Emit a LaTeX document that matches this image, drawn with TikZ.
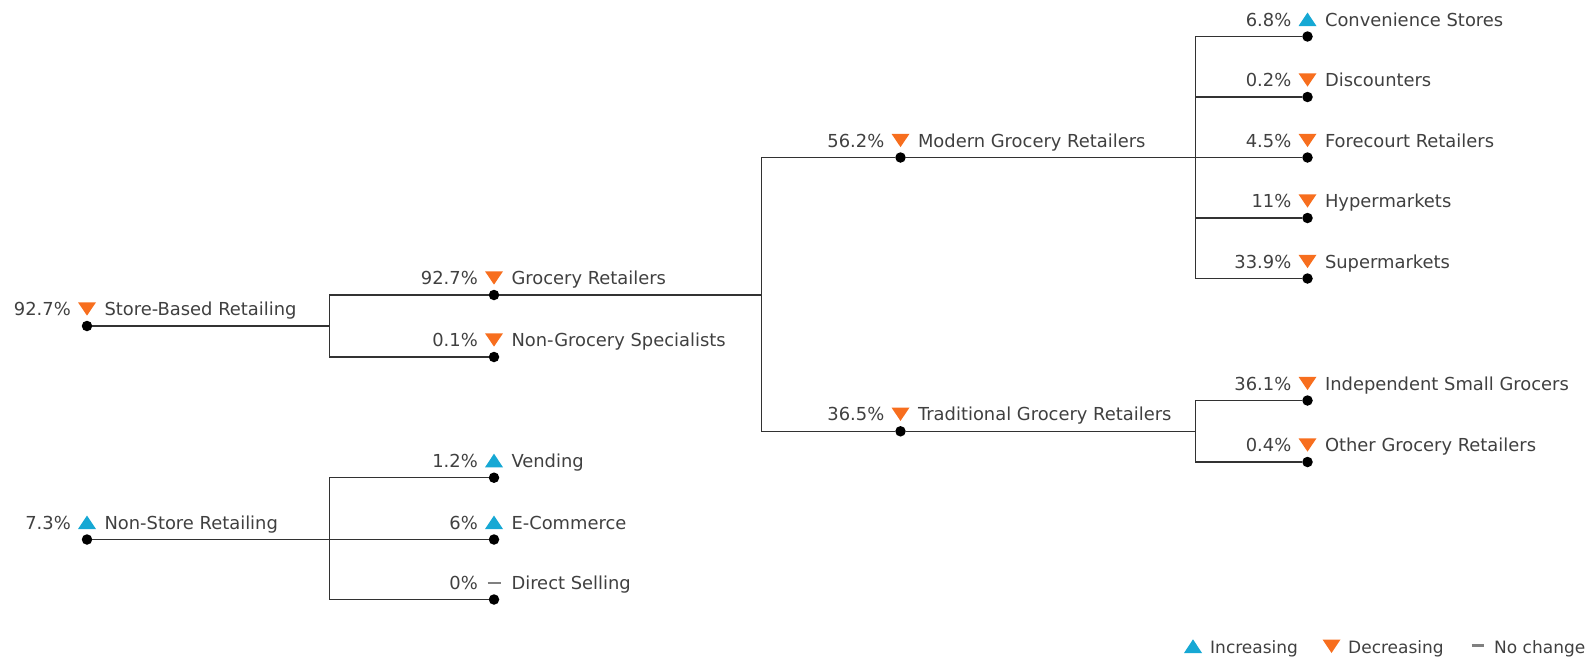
\documentclass[tikz,border=0pt]{standalone}
\usepackage{fontspec}
\setmainfont{DejaVu Sans}
\definecolor{decr}{RGB}{247,110,30}
\definecolor{incr}{RGB}{22,168,212}
\definecolor{txt}{RGB}{64,64,64}
\definecolor{linec}{RGB}{50,50,50}
\definecolor{nochg}{RGB}{128,128,128}
\tikzset{
  dot/.style={circle,fill=black,inner sep=0pt,minimum size=10.5pt},
  conn/.style={draw=linec,line width=1.15pt},
  lbl/.style={text=txt,inner sep=0pt,anchor=base west,font=\fontsize{17.9}{20}\selectfont},
  pct/.style={text=txt,inner sep=0pt,anchor=base east,font=\fontsize{17.9}{20}\selectfont},
  leg/.style={text=txt,inner sep=0pt,anchor=base west,font=\fontsize{17}{20}\selectfont},
}
\newcommand\mytri[2]{%
  \ifx#2d\fill[decr] ([shift={(-9pt,23.7pt)}]#1.center) -- ([shift={(9pt,23.7pt)}]#1.center) -- ([shift={(0pt,10.4pt)}]#1.center) -- cycle;\fi
  \ifx#2u\fill[incr] ([shift={(-9pt,10.4pt)}]#1.center) -- ([shift={(9pt,10.4pt)}]#1.center) -- ([shift={(0pt,24pt)}]#1.center) -- cycle;\fi
  \ifx#2n\draw[nochg,line width=2.4pt] ([shift={(-6.5pt,16.7pt)}]#1.center) -- ([shift={(6.5pt,16.7pt)}]#1.center);\fi
}
\newcommand\leaf[6]{%
  \node[dot] (#1) at (#2,#3) {};
  \node[pct] (#1-p) at ([shift={(-16pt,10.4pt)}]#1.center) {#4};
  \node[lbl] (#1-l) at ([shift={(17.3pt,10.4pt)}]#1.center) {#6};
  \mytri{#1}{#5}
}
\begin{document}
\begin{tikzpicture}[x=1pt,y=-1pt]
\useasboundingbox (0,0) rectangle (1590,657);
% nodes
\leaf{sb}{87}{326}{92.7\%}{d}{Store-Based Retailing}
\leaf{gr}{494}{295}{92.7\%}{d}{Grocery Retailers}
\leaf{ng}{494}{357}{0.1\%}{d}{Non-Grocery Specialists}
\leaf{mg}{900.5}{157.5}{56.2\%}{d}{Modern Grocery Retailers}
\leaf{tg}{900.5}{431.3}{36.5\%}{d}{Traditional Grocery Retailers}
\leaf{cs}{1307.5}{36.5}{6.8\%}{u}{Convenience Stores}
\leaf{di}{1307.5}{97}{0.2\%}{d}{Discounters}
\leaf{fr}{1307.5}{157.5}{4.5\%}{d}{Forecourt Retailers}
\leaf{hy}{1307.5}{218}{11\%}{d}{Hypermarkets}
\leaf{su}{1307.5}{278.5}{33.9\%}{d}{Supermarkets}
\leaf{is}{1307.5}{400.5}{36.1\%}{d}{Independent Small Grocers}
\leaf{og}{1307.5}{462}{0.4\%}{d}{Other Grocery Retailers}
\leaf{ns}{87}{539.5}{7.3\%}{u}{Non-Store Retailing}
\leaf{ve}{494}{477.7}{1.2\%}{u}{Vending}
\leaf{ec}{494}{539.5}{6\%}{u}{E-Commerce}
\leaf{ds}{494}{599.5}{0\%}{n}{Direct Selling}
% branch points
\coordinate (b1) at (329.5,326);
\coordinate (b2) at (761.5,295);
\coordinate (b3) at (1195.5,157.5);
\coordinate (b4) at (1195.5,431.3);
\coordinate (b5) at (329.5,539.5);
% connectors
\draw[conn] (sb) -- (b1);
\draw[conn] (gr) -- (gr -| b1) -- (ng -| b1) -- (ng);
\draw[conn] (gr) -- (b2);
\draw[conn] (mg) -- (mg -| b2) -- (tg -| b2) -- (tg);
\draw[conn] (mg) -- (b3);
\draw[conn] (cs) -- (cs -| b3) -- (su -| b3) -- (su);
\draw[conn] (di) -- (di -| b3);
\draw[conn] (fr) -- (b3);
\draw[conn] (hy) -- (hy -| b3);
\draw[conn] (tg) -- (b4);
\draw[conn] (is) -- (is -| b4) -- (og -| b4) -- (og);
\draw[conn] (ns) -- (b5);
\draw[conn] (ve) -- (ve -| b5) -- (ds -| b5) -- (ds);
\draw[conn] (ec) -- (b5);
% legend
\fill[incr] (1184,653) -- (1202,653) -- (1193,639.3) -- cycle;
\node[leg] (li) at (1210,653) {Increasing};
\fill[decr] (1322.5,639.5) -- (1340.5,639.5) -- (1331.5,653) -- cycle;
\node[leg] (ld) at (1348,653) {Decreasing};
\draw[nochg,line width=2.4pt] (1471.5,645.5) -- (1484,645.5);
\node[leg] (ln) at (1494,653) {No change};
\end{tikzpicture}
\end{document}
